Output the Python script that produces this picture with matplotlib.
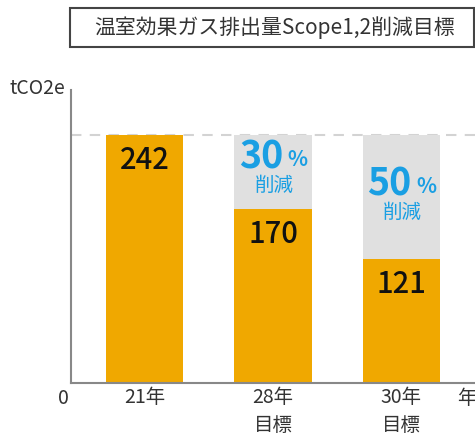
import matplotlib
matplotlib.use("Agg")
import matplotlib.pyplot as plt
from matplotlib.patches import Rectangle

plt.rcParams['font.family'] = ['Noto Sans CJK JP', 'DejaVu Sans']

categories = ["21年", "28年\n目標", "30年\n目標"]
values = [242, 170, 121]
baseline = 242
reductions = ["", "30", "50"]
title = "温室効果ガス排出量Scope1,2削減目標"

orange = "#F0A800"
gray = "#E0E0E0"
blue = "#1A9FE3"

H = 434.0
fig = plt.figure(figsize=(4.75, 4.34), dpi=100)
ax = fig.add_axes([71/475, 1-383/H, 1-71/475, (383-90)/H])
x = list(range(len(categories)))
w = 0.6
ymax = 286
px = ymax / 293.0  # data units per pixel

for i, v in enumerate(values):
    if v < baseline:
        ax.bar(i, baseline, width=w, color=gray, zorder=1)
    ax.bar(i, v, width=w, color=orange, zorder=2)
    ax.text(i, v - 34 * px, str(v), ha='center', va='baseline', fontsize=21,
            fontweight='medium', color='#111111', zorder=3)
ax.axhline(baseline, color="#D3D3D3", lw=1.5, ls=(0, (5, 4)), zorder=0)

# reduction labels
for i, v in enumerate(values):
    if not reductions[i]:
        continue
    base = baseline - 33 * px if v > 150 else baseline - 60 * px
    ax.text(i - 0.093, base, reductions[i], ha='center', va='baseline', fontsize=27,
            fontweight='bold', color=blue, zorder=3)
    ax.text(i + 0.19, base + 2 * px, "%", ha='center', va='baseline', fontsize=15,
            fontweight='bold', color=blue, zorder=3)
    ax.text(i + 0.01, base - 17 * px, "削減", ha='center', va='center', fontsize=14,
            color=blue, zorder=3)

ax.set_xlim(-0.572, 2.572)
ax.set_ylim(0, ymax)
ax.set_xticks(x)
ax.set_xticklabels(categories, fontsize=14, color='#333333', linespacing=1.45)
ax.set_yticks([])
ax.tick_params(length=0, pad=3)
for s in ['top', 'right']:
    ax.spines[s].set_visible(False)
for s in ['left', 'bottom']:
    ax.spines[s].set_color('#888888')
    ax.spines[s].set_linewidth(1.5)

# zero label, unit label, clipped label
fig.text(63/475, 1-399/H, "0", ha='center', va='center', fontsize=14, color='#333333')
fig.text(65/475, 1-88/H, "tCO2e", ha='right', va='center', fontsize=14, color='#333333')
fig.text(457/475, 1-399/H, "年", ha='left', va='center', fontsize=14, color='#333333')

# title box
fig.patches.append(Rectangle((70/475, 1-47/H), (474-70)/475, 39/H,
                             transform=fig.transFigure, fill=False,
                             edgecolor='#444444', lw=1.5))
fig.text(274/475, 1-28/H, title, ha='center', va='center', fontsize=15, color='#333333')

fig.savefig("out.png", dpi=100)
